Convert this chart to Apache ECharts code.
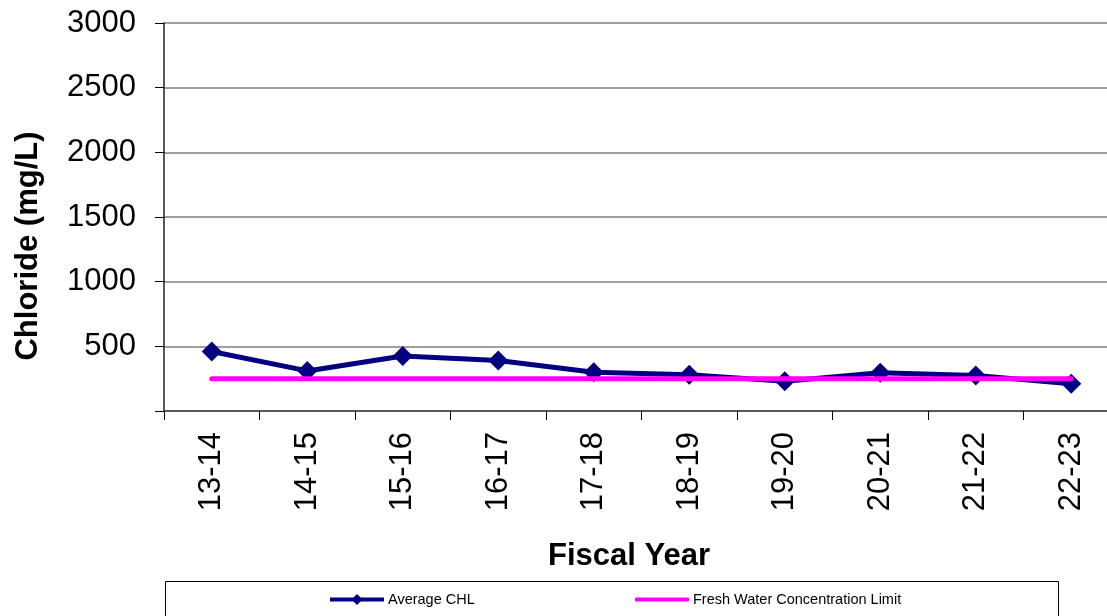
<!DOCTYPE html>
<html>
<head>
<meta charset="utf-8">
<script src="https://cdn.jsdelivr.net/npm/echarts@6/dist/echarts.min.js"></script>
<style>
  html, body { margin: 0; padding: 0; background: #fff; }
  #chart { width: 1107px; height: 616px; }
</style>
</head>
<body>
<div id="chart"></div>
<script>
// Fiscal years on the category axis
const fiscalYears = ['13-14', '14-15', '15-16', '16-17', '17-18', '18-19', '19-20', '20-21', '21-22', '22-23'];
// Average chloride per fiscal year (mg/L)
const averageChl = [460, 310, 425, 390, 300, 280, 230, 295, 275, 210];
// Fresh water concentration limit (mg/L)
const freshWaterLimit = [250, 250, 250, 250, 250, 250, 250, 250, 250, 250];
// Value axis range and step
const yMin = 0, yMax = 3000, yStep = 500;

const FONT = "'Liberation Sans', Arial, sans-serif";
const chart = echarts.init(document.getElementById('chart'), null, { renderer: 'canvas' });

chart.setOption({
  animation: false,
  backgroundColor: '#ffffff',
  // plot area runs slightly past the right edge of the canvas
  grid: {
    left: 164, top: 23, width: 955, height: 388,
    containLabel: false, outerBoundsMode: 'none'
  },
  xAxis: {
    type: 'category',
    data: fiscalYears,
    boundaryGap: true,
    axisLine: { show: true, lineStyle: { color: '#404040', width: 1.5 } },
    axisTick: { show: true, length: 9, alignWithLabel: false, lineStyle: { color: '#000', width: 1 } },
    axisLabel: { rotate: 90, margin: 21, color: '#000', fontFamily: FONT, fontSize: 31, interval: 0 },
    splitLine: { show: false }
  },
  yAxis: {
    type: 'value',
    min: yMin, max: yMax, interval: yStep,
    axisLine: { show: true, lineStyle: { color: '#202020', width: 1.5 } },
    axisTick: { show: true, length: 9, lineStyle: { color: '#000', width: 1 } },
    axisLabel: {
      margin: 28, color: '#000', fontFamily: FONT, fontSize: 31,
      formatter: v => (v === 0 ? '' : String(v))
    },
    splitLine: { show: true, lineStyle: { color: '#808080', width: 1.5 } }
  },
  legend: [
    {
      data: ['Average CHL'], left: 328, top: 592, padding: 0,
      itemWidth: 54, itemHeight: 14, itemGap: 0,
      lineStyle: { width: 4 },
      textStyle: { fontFamily: FONT, fontSize: 14.5, color: '#000', padding: [0, 0, 0, -1] }
    },
    {
      data: [{ name: 'Fresh Water Concentration Limit', icon: 'roundRect' }],
      left: 635, top: 592, padding: 0,
      itemWidth: 54, itemHeight: 4, itemGap: 0,
      textStyle: { fontFamily: FONT, fontSize: 14.5, color: '#000', padding: [0, 0, 0, -1] }
    }
  ],
  graphic: [
    {
      type: 'rect', left: 165, top: 581, z: -1, silent: true,
      shape: { width: 893, height: 60 },
      style: { fill: '#fff', stroke: '#000', lineWidth: 1 }
    },
    {
      type: 'text', x: 28, y: 246, rotation: Math.PI / 2, silent: true,
      style: {
        text: 'Chloride (mg/L)', fill: '#000', font: 'bold 31px ' + FONT,
        align: 'center', verticalAlign: 'middle'
      }
    },
    {
      type: 'text', x: 629, y: 556, silent: true,
      style: {
        text: 'Fiscal Year', fill: '#000', font: 'bold 31px ' + FONT,
        align: 'center', verticalAlign: 'middle'
      }
    }
  ],
  series: [
    {
      name: 'Average CHL',
      type: 'line',
      data: averageChl,
      symbol: 'diamond',
      symbolSize: 20,
      showSymbol: true,
      itemStyle: { color: '#000080' },
      lineStyle: { color: '#000080', width: 5 },
      z: 2
    },
    {
      name: 'Fresh Water Concentration Limit',
      type: 'line',
      data: freshWaterLimit,
      symbol: 'none',
      itemStyle: { color: '#FF00FF' },
      lineStyle: { color: '#FF00FF', width: 5, cap: 'round' },
      z: 3
    }
  ]
});
</script>
</body>
</html>
